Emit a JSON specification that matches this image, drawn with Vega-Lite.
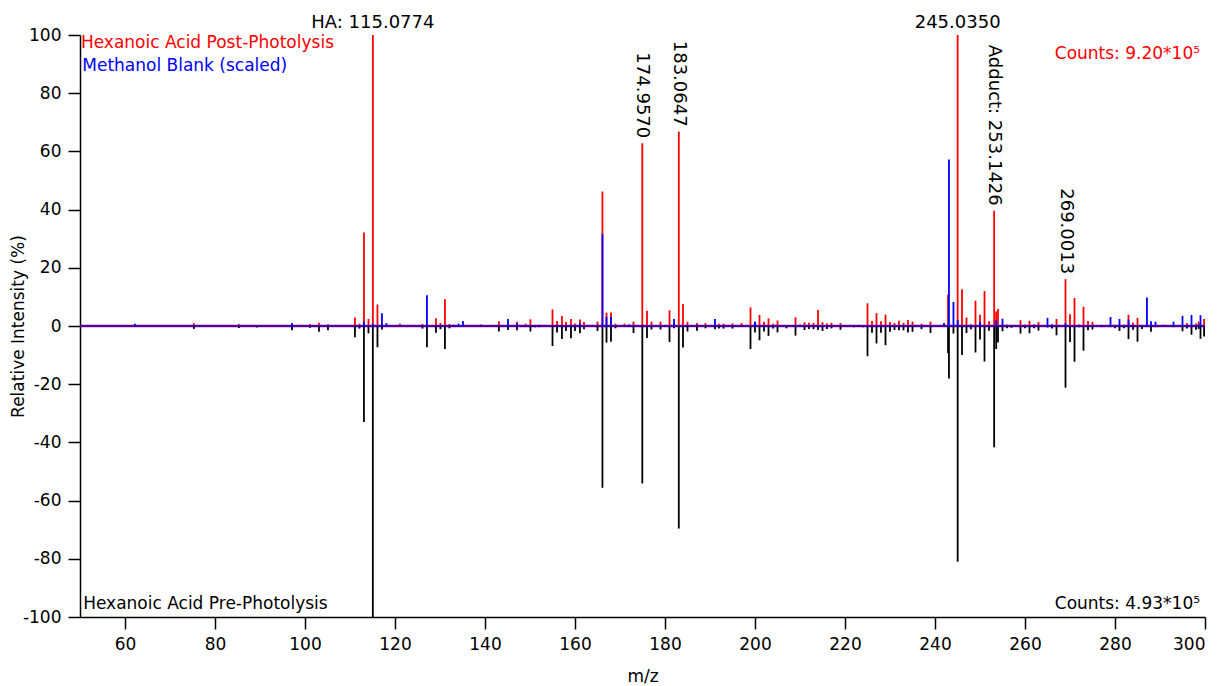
{
  "$schema": "https://vega.github.io/schema/vega-lite/v6.json",
  "width": 1125,
  "height": 582,
  "autosize": {"type": "none"},
  "padding": {"left": 80, "top": 35, "right": 20, "bottom": 69},
  "background": "white",
  "config": {
    "view": {"stroke": null},
    "font": "DejaVu Sans",
    "axis": {
      "grid": false,
      "domainColor": "black",
      "domainWidth": 1.5,
      "tickColor": "black",
      "tickWidth": 1.5,
      "tickSize": 12,
      "labelColor": "black",
      "labelFontSize": 17,
      "labelFont": "DejaVu Sans",
      "labelExpr": "datum.value < 0 ? '-' + abs(datum.value) : '' + datum.value",
      "titleColor": "black",
      "titleFont": "DejaVu Sans",
      "titleFontSize": 17,
      "titleFontWeight": "normal"
    }
  },
  "datasets": {
    "zero": [{"v": 0}],
    "peaks": [
      {"mz": 62.2, "blank": 0.8, "pre": -0.3},
      {"mz": 75.3, "post": 1.0, "pre": -1.0},
      {"mz": 85.3, "post": 0.7, "pre": -0.7},
      {"mz": 89.3, "pre": -0.5},
      {"mz": 97.1, "post": 0.4, "blank": 1.0, "pre": -1.5},
      {"mz": 101.1, "post": 0.7, "pre": -0.6},
      {"mz": 103.1, "post": 1.1, "pre": -2.0},
      {"mz": 105.1, "post": 0.6, "pre": -1.5},
      {"mz": 111.1, "post": 2.9, "pre": -3.9},
      {"mz": 112.1, "post": 0.8, "pre": -0.9},
      {"mz": 113.1, "post": 32.1, "blank": 1.5, "pre": -33.0},
      {"mz": 114.1, "post": 2.4, "pre": -2.5},
      {"mz": 115.0774, "post": 100, "blank": 0.8, "pre": -100, "label": "HA: 115.0774"},
      {"mz": 116.1, "post": 7.4, "pre": -7.3},
      {"mz": 117.1, "blank": 4.4, "pre": -1.2},
      {"mz": 118.1, "blank": 1.0, "pre": -0.3},
      {"mz": 121.1, "post": 0.8, "pre": -0.2},
      {"mz": 126.1, "post": 0.7, "pre": -0.9},
      {"mz": 127.1, "blank": 10.6, "pre": -7.3},
      {"mz": 129.1, "post": 2.7, "pre": -2.3},
      {"mz": 130.1, "post": 1.0, "pre": -1.1},
      {"mz": 131.1, "post": 9.2, "pre": -7.9},
      {"mz": 132.1, "post": 0.7, "pre": -0.8},
      {"mz": 133.1, "blank": 0.4},
      {"mz": 134.1, "blank": 0.8, "pre": -0.3},
      {"mz": 135.1, "blank": 1.7},
      {"mz": 139.1, "post": 0.6, "pre": -0.3},
      {"mz": 141.1, "post": 0.3, "pre": -0.3},
      {"mz": 143.1, "post": 1.6, "pre": -1.9},
      {"mz": 145.1, "blank": 2.4, "pre": -1.4},
      {"mz": 147.1, "post": 1.5, "blank": 0.9, "pre": -1.5},
      {"mz": 149.0, "post": 0.8, "pre": -0.3},
      {"mz": 150.1, "post": 2.3, "pre": -1.9},
      {"mz": 151.1, "post": 0.4, "pre": -0.4},
      {"mz": 152.1, "post": 0.5, "pre": -0.4},
      {"mz": 155.0, "post": 5.7, "pre": -6.9},
      {"mz": 156.0, "post": 1.7, "pre": -2.2},
      {"mz": 157.1, "post": 3.4, "pre": -4.5},
      {"mz": 158.0, "post": 1.4, "pre": -1.7},
      {"mz": 159.1, "post": 2.4, "pre": -4.2},
      {"mz": 160.0, "post": 0.9, "pre": -1.7},
      {"mz": 161.1, "post": 2.2, "blank": 0.9, "pre": -2.5},
      {"mz": 162.0, "post": 1.4, "pre": -1.1},
      {"mz": 165.0, "post": 1.5, "pre": -1.7},
      {"mz": 166.1, "post": 46.2, "blank": 31.7, "pre": -55.6},
      {"mz": 167.0, "post": 4.6, "blank": 3.1, "pre": -5.7},
      {"mz": 168.0, "post": 4.6, "blank": 3.1, "pre": -5.4},
      {"mz": 169.0, "post": 0.8, "pre": -0.8},
      {"mz": 171.0, "post": 0.8, "pre": -0.3},
      {"mz": 172.0, "blank": 0.5},
      {"mz": 173.0, "post": 1.5, "pre": -2.4},
      {"mz": 174.957, "post": 62.8, "pre": -54.1, "label": "174.9570"},
      {"mz": 176.0, "post": 5.2, "pre": -4.1},
      {"mz": 177.0, "post": 1.5, "pre": -1.2},
      {"mz": 179.0, "post": 1.5, "pre": -1.2},
      {"mz": 180.0, "post": 0.3, "pre": -0.3},
      {"mz": 181.0, "post": 5.4, "pre": -5.5},
      {"mz": 182.0, "blank": 2.4, "pre": -0.8},
      {"mz": 183.0647, "post": 66.8, "pre": -69.6, "label": "183.0647"},
      {"mz": 184.0, "post": 7.6, "pre": -7.4},
      {"mz": 185.0, "post": 1.4, "pre": -1.9},
      {"mz": 186.0, "post": 0.3, "pre": -0.3},
      {"mz": 187.1, "post": 1.0, "pre": -1.6},
      {"mz": 189.0, "post": 1.0, "pre": -0.8},
      {"mz": 191.1, "blank": 2.4, "pre": -1.1},
      {"mz": 192.0, "post": 0.8, "pre": -0.9},
      {"mz": 193.0, "post": 0.8, "pre": -0.9},
      {"mz": 195.0, "post": 0.9, "pre": -0.9},
      {"mz": 197.0, "post": 1.0, "pre": -0.3},
      {"mz": 199.0, "post": 6.4, "pre": -7.9},
      {"mz": 200.0, "post": 1.5, "blank": 1.5, "pre": -2.2},
      {"mz": 201.0, "post": 3.8, "pre": -4.9},
      {"mz": 202.0, "post": 1.5, "pre": -1.9},
      {"mz": 203.0, "post": 2.6, "pre": -3.4},
      {"mz": 204.0, "post": 0.8, "pre": -0.9},
      {"mz": 205.0, "post": 1.9, "pre": -2.2},
      {"mz": 207.0, "post": 0.2, "pre": -0.8},
      {"mz": 209.0, "post": 3.0, "blank": 0.4, "pre": -3.3},
      {"mz": 210.0, "post": 0.5, "pre": -0.3},
      {"mz": 211.0, "post": 1.3, "pre": -1.4},
      {"mz": 212.0, "post": 1.1, "pre": -1.0},
      {"mz": 213.0, "post": 1.1, "pre": -1.1},
      {"mz": 214.0, "post": 5.5, "pre": -1.4},
      {"mz": 215.0, "post": 1.3, "pre": -1.7},
      {"mz": 216.0, "post": 0.9, "pre": -1.0},
      {"mz": 217.0, "post": 1.1, "pre": -0.8},
      {"mz": 219.0, "post": 1.0, "pre": -1.3},
      {"mz": 222.0, "post": 0.3, "pre": -0.4},
      {"mz": 223.0, "post": 0.3, "pre": -0.3},
      {"mz": 224.0, "post": 0.3, "pre": -0.4},
      {"mz": 225.0, "post": 7.8, "pre": -10.4},
      {"mz": 226.0, "post": 1.7, "pre": -2.3},
      {"mz": 227.0, "post": 4.4, "pre": -6.0},
      {"mz": 228.0, "post": 1.6, "pre": -2.3},
      {"mz": 229.0, "post": 3.9, "pre": -6.6},
      {"mz": 230.0, "post": 1.4, "pre": -2.0},
      {"mz": 231.0, "post": 1.0, "pre": -1.4},
      {"mz": 232.0, "post": 1.8, "pre": -1.5},
      {"mz": 233.0, "post": 1.1, "pre": -1.5},
      {"mz": 234.0, "post": 2.1, "pre": -2.2},
      {"mz": 235.0, "post": 1.5, "pre": -2.0},
      {"mz": 237.0, "post": 0.8, "pre": -1.1},
      {"mz": 239.0, "post": 1.5, "pre": -2.4},
      {"mz": 241.0, "post": 0.3, "pre": -0.3},
      {"mz": 242.0, "blank": 1.0, "pre": -0.2},
      {"mz": 242.9, "post": 10.7, "pre": -9.4},
      {"mz": 243.1, "blank": 57.2, "pre": -18.0},
      {"mz": 244.1, "blank": 8.3, "pre": -2.6},
      {"mz": 245.035, "post": 100, "blank": 2.0, "pre": -81.0, "label": "245.0350"},
      {"mz": 246.0, "post": 12.6, "pre": -10.0},
      {"mz": 247.0, "post": 2.9, "pre": -2.4},
      {"mz": 248.0, "post": 0.6, "pre": -1.1},
      {"mz": 249.0, "post": 8.7, "pre": -9.1},
      {"mz": 250.0, "post": 3.9, "blank": 1.5, "pre": -4.6},
      {"mz": 251.0, "post": 12.0, "pre": -12.2},
      {"mz": 252.0, "post": 1.6, "pre": -1.6},
      {"mz": 253.1426, "post": 39.6, "pre": -41.7, "label": "Adduct: 253.1426"},
      {"mz": 253.6, "post": 5.0, "blank": 2.0, "pre": -7.9},
      {"mz": 254.0, "post": 5.8, "pre": -5.7},
      {"mz": 255.0, "blank": 2.5, "pre": -1.8},
      {"mz": 256.0, "post": 0.5, "pre": -0.8},
      {"mz": 257.0, "post": 0.4, "pre": -0.6},
      {"mz": 259.0, "post": 2.0, "pre": -2.6},
      {"mz": 260.0, "post": 0.5, "pre": -0.8},
      {"mz": 261.0, "post": 1.8, "pre": -2.5},
      {"mz": 262.0, "post": 0.6, "pre": -0.8},
      {"mz": 263.0, "post": 1.4, "pre": -1.6},
      {"mz": 265.0, "blank": 2.8, "pre": -0.5},
      {"mz": 266.0, "post": 0.5, "blank": 0.5, "pre": -0.9},
      {"mz": 267.0, "post": 2.4, "pre": -3.2},
      {"mz": 269.0013, "post": 16.1, "blank": 1.0, "pre": -21.2, "label": "269.0013"},
      {"mz": 270.0, "post": 4.0, "pre": -5.5},
      {"mz": 271.0, "post": 9.6, "pre": -12.3},
      {"mz": 272.0, "post": 0.5, "pre": -0.4},
      {"mz": 273.0, "post": 6.6, "pre": -8.5},
      {"mz": 274.0, "post": 1.7, "pre": -1.5},
      {"mz": 275.0, "post": 1.4, "pre": -1.2},
      {"mz": 277.0, "post": 0.3, "pre": -0.4},
      {"mz": 279.0, "blank": 3.1, "pre": -0.4},
      {"mz": 280.0, "post": 0.4, "pre": -0.8},
      {"mz": 281.0, "blank": 2.4, "pre": -1.7},
      {"mz": 282.0, "post": 0.4, "blank": 0.3, "pre": -0.8},
      {"mz": 283.0, "post": 3.9, "blank": 2.2, "pre": -4.5},
      {"mz": 284.0, "post": 1.2, "pre": -1.3},
      {"mz": 285.0, "post": 2.8, "pre": -5.4},
      {"mz": 286.0, "post": 0.3, "pre": -1.0},
      {"mz": 287.1, "blank": 9.8, "pre": -0.3},
      {"mz": 288.0, "blank": 1.6, "pre": -2.0},
      {"mz": 289.0, "blank": 1.5, "pre": -0.4},
      {"mz": 291.0, "blank": 0.4, "pre": -0.2},
      {"mz": 293.0, "blank": 1.5, "pre": -0.4},
      {"mz": 295.0, "blank": 3.5, "pre": -1.8},
      {"mz": 296.0, "post": 1.0, "pre": -0.9},
      {"mz": 297.0, "blank": 3.8, "pre": -3.0},
      {"mz": 298.0, "post": 0.9, "pre": -1.3},
      {"mz": 298.6, "post": 1.5, "blank": 0.5, "pre": -1.0},
      {"mz": 299.0, "blank": 3.7, "pre": -4.4},
      {"mz": 299.8, "post": 2.4, "pre": -3.6}
    ],
    "notes": [
      {"mz": 50.2, "v": 97.3, "series": "post", "txt": "Hexanoic Acid Post-Photolysis"},
      {"mz": 50.5, "v": 89.3, "series": "blank", "txt": "Methanol Blank (scaled)"},
      {"mz": 50.7, "v": -95.6, "series": "pre", "txt": "Hexanoic Acid Pre-Photolysis"},
      {"mz": 298.9, "v": 93.5, "series": "post", "txt": "Counts: 9.20*10⁵"},
      {"mz": 298.9, "v": -95.6, "series": "pre", "txt": "Counts: 4.93*10⁵"}
    ]
  },
  "layer": [
    {
      "description": "red zero line under the sticks",
      "data": {"name": "zero"},
      "mark": {"type": "rule", "color": "#ff0000", "strokeWidth": 2.4},
      "encoding": {
        "y": {"field": "v", "type": "quantitative", "scale": {"domain": [-100, 100], "nice": false}}
      }
    },
    {
      "description": "stick spectra: post-photolysis up (red), scaled blank up (blue), pre-photolysis down (black)",
      "data": {"name": "peaks"},
      "transform": [
        {"fold": ["post", "blank", "pre"], "as": ["series", "v"]},
        {"filter": "datum.v != null && datum.v != 0"}
      ],
      "mark": {"type": "rule", "strokeWidth": 1.8},
      "encoding": {
        "x": {
          "field": "mz", "type": "quantitative",
          "scale": {"domain": [50, 300], "nice": false, "zero": false},
          "axis": {
            "title": "m/z",
            "values": [60, 80, 100, 120, 140, 160, 180, 200, 220, 240, 260, 280, 300],
            "labelPadding": 7,
            "titleBaseline": "middle",
            "titleY": 59
          }
        },
        "y": {
          "field": "v", "type": "quantitative",
          "scale": {"domain": [-100, 100], "nice": false},
          "axis": {
            "title": "Relative Intensity (%)",
            "values": [-100, -80, -60, -40, -20, 0, 20, 40, 60, 80, 100],
            "labelPadding": 7,
            "titleAngle": -90,
            "titleAlign": "center",
            "titleBaseline": "middle",
            "titleX": -62,
            "titleY": 291
          }
        },
        "y2": {"datum": 0},
        "color": {
          "field": "series", "type": "nominal",
          "scale": {"domain": ["post", "blank", "pre"], "range": ["#ff0000", "#0000ff", "#000000"]},
          "legend": null
        }
      }
    },
    {
      "description": "blue zero line of the blank trace",
      "data": {"name": "zero"},
      "mark": {"type": "rule", "color": "#0000ff", "strokeWidth": 1.3},
      "encoding": {
        "y": {"field": "v", "type": "quantitative", "scale": {"domain": [-100, 100], "nice": false}}
      }
    },
    {
      "description": "labels of the full-scale peaks, set above the frame",
      "data": {"name": "peaks"},
      "transform": [{"filter": "datum.label && datum.post >= 99.9"}],
      "mark": {"type": "text", "fontSize": 18, "align": "center", "baseline": "alphabetic", "dy": -7, "color": "black"},
      "encoding": {
        "x": {"field": "mz", "type": "quantitative", "scale": {"domain": [50, 300], "nice": false, "zero": false}},
        "y": {"field": "post", "type": "quantitative", "scale": {"domain": [-100, 100], "nice": false}},
        "text": {"field": "label"}
      }
    },
    {
      "description": "labels of the other marked peaks, written downward above each stick",
      "data": {"name": "peaks"},
      "transform": [{"filter": "datum.label && datum.post < 99.9"}],
      "mark": {"type": "text", "fontSize": 18, "angle": 90, "align": "right", "baseline": "middle", "dx": -5, "color": "black"},
      "encoding": {
        "x": {"field": "mz", "type": "quantitative", "scale": {"domain": [50, 300], "nice": false, "zero": false}},
        "y": {"field": "post", "type": "quantitative", "scale": {"domain": [-100, 100], "nice": false}},
        "text": {"field": "label"}
      }
    },
    {
      "description": "trace names on the left",
      "data": {"name": "notes"},
      "transform": [{"filter": "datum.mz < 175"}],
      "mark": {"type": "text", "fontSize": 17, "align": "left", "baseline": "middle"},
      "encoding": {
        "x": {"field": "mz", "type": "quantitative", "scale": {"domain": [50, 300], "nice": false, "zero": false}},
        "y": {"field": "v", "type": "quantitative", "scale": {"domain": [-100, 100], "nice": false}},
        "text": {"field": "txt"},
        "color": {"field": "series", "type": "nominal", "scale": {"domain": ["post", "blank", "pre"], "range": ["#ff0000", "#0000ff", "#000000"]}, "legend": null}
      }
    },
    {
      "description": "total counts on the right",
      "data": {"name": "notes"},
      "transform": [{"filter": "datum.mz >= 175"}],
      "mark": {"type": "text", "fontSize": 17, "align": "right", "baseline": "middle"},
      "encoding": {
        "x": {"field": "mz", "type": "quantitative", "scale": {"domain": [50, 300], "nice": false, "zero": false}},
        "y": {"field": "v", "type": "quantitative", "scale": {"domain": [-100, 100], "nice": false}},
        "text": {"field": "txt"},
        "color": {"field": "series", "type": "nominal", "scale": {"domain": ["post", "blank", "pre"], "range": ["#ff0000", "#0000ff", "#000000"]}, "legend": null}
      }
    }
  ]
}
